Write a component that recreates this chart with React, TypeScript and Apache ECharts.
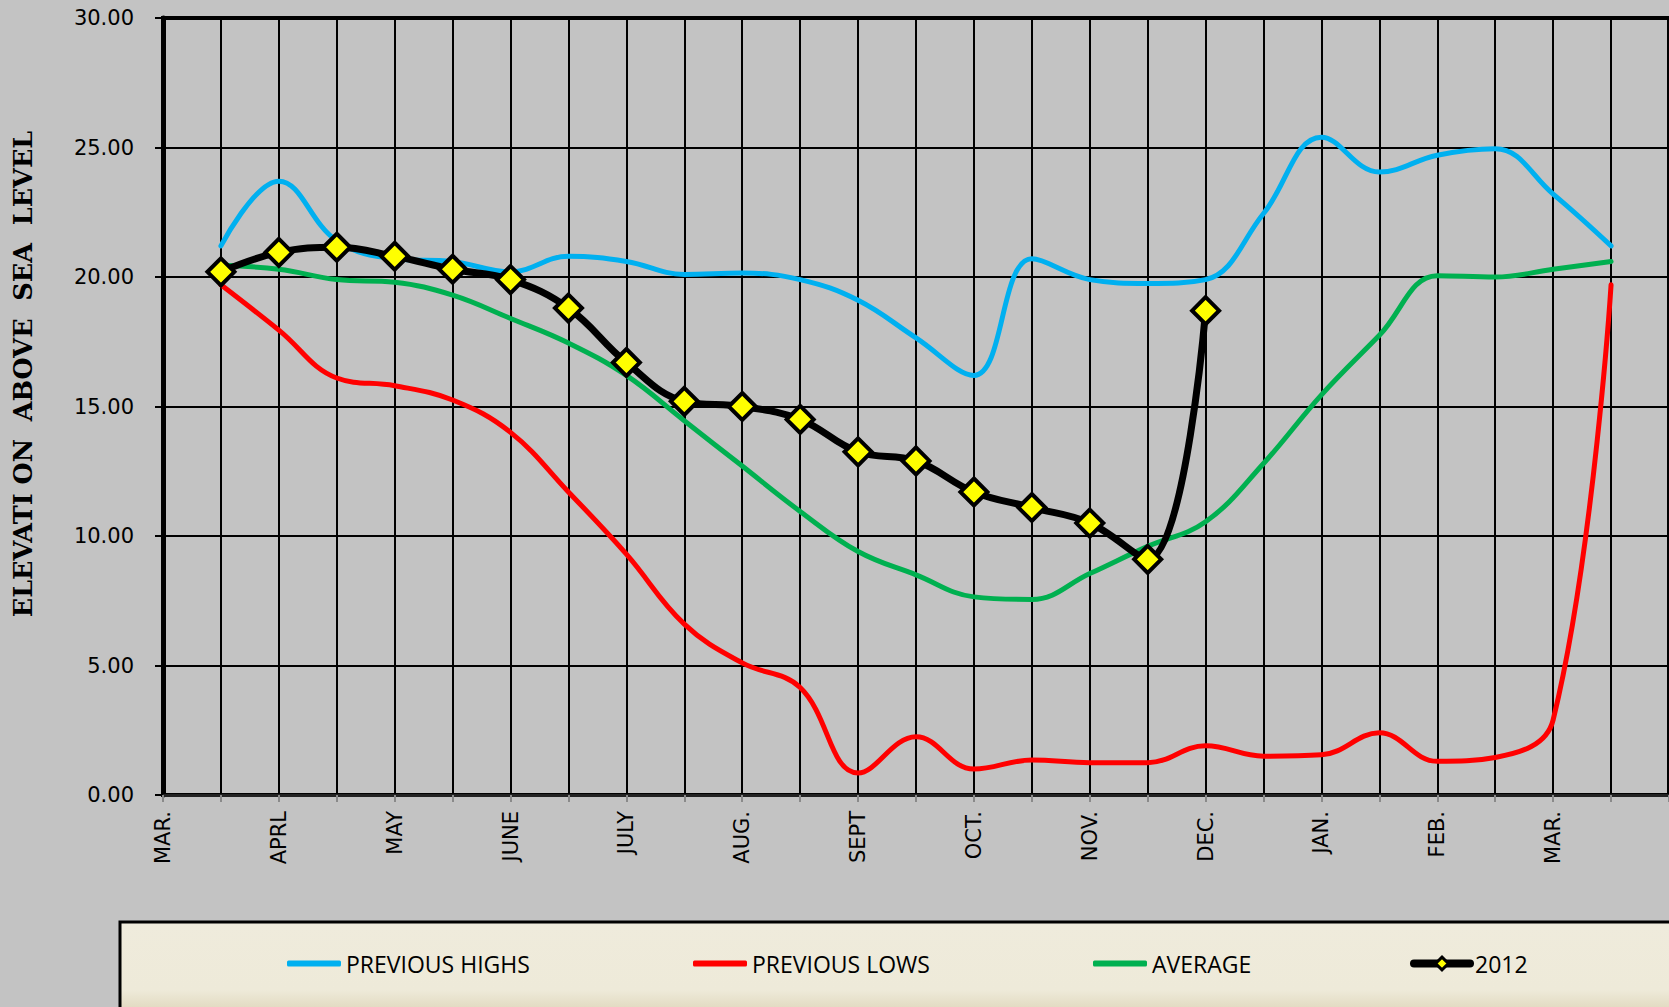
import React, { useEffect, useRef } from "react";
import * as echarts from "echarts";

const categories = [
  "MAR.", "", "APRL", "", "MAY", "", "JUNE", "", "JULY", "", "AUG.", "", "SEPT", "",
  "OCT.", "", "NOV.", "", "DEC.", "", "JAN.", "", "FEB.", "", "MAR.", "", "",
];

const previousHighs = [
  null, 21.2, 23.7, 21.4, 20.7, 20.6, 20.2, 20.8, 20.6, 20.1, 20.15, 19.9, 19.1, 17.65,
  16.2, 20.7, 19.9, 19.75, 19.9, 22.45, 25.4, 24.05, 24.7, 24.95, 23.2, 21.2, null,
];

const previousLows = [
  null, 19.7, 17.95, 16.1, 15.8, 15.25, 14.0, 11.7, 9.3, 6.6, 5.1, 4.15, 0.85, 2.25,
  1.0, 1.35, 1.25, 1.25, 1.9, 1.5, 1.55, 2.4, 1.3, 1.45, 2.9, 19.7, null,
];

const average = [
  null, 20.45, 20.3, 19.9, 19.8, 19.3, 18.4, 17.45, 16.2, 14.45, 12.7, 10.95, 9.4, 8.5,
  7.65, 7.55, 8.55, 9.6, 10.55, 12.8, 15.45, 17.75, 20.05, 20.0, 20.3, 20.6, null,
];

const year2012 = [
  null, 20.2, 20.95, 21.15, 20.8, 20.3, 19.9, 18.8, 16.7, 15.2, 15.0, 14.5, 13.25, 12.9,
  11.7, 11.1, 10.5, 9.1, 18.7, null, null, null, null, null, null, null, null,
];

const yTicks = { min: 0, max: 30, interval: 5 };

const tickFont = "'DejaVu Sans', Verdana, sans-serif";
const legendFont = "'Open Sans', 'Noto Sans', sans-serif";

export default function App() {
  const ref = useRef<HTMLDivElement>(null);

  useEffect(() => {
    if (!ref.current) return;
    const chart = echarts.init(ref.current, undefined, { renderer: "svg" });

    const legendText = { fontFamily: legendFont, fontSize: 23, color: "#000" };
    const lineLegend = {
      top: 947,
      itemWidth: 54,
      itemHeight: 6,
      itemGap: 0,
      textStyle: legendText,
      z: 10,
    };

    chart.setOption({
      animation: false,
      backgroundColor: "#c3c3c3",
      grid: {
        left: 163,
        right: 0,
        top: 18,
        bottom: 212,
        show: true,
        borderColor: "#000",
        borderWidth: 4,
        backgroundColor: "transparent",
      },
      graphic: [
        {
          type: "rect",
          z: 1,
          shape: { x: 120, y: 922, width: 1620, height: 110 },
          style: {
            fill: new echarts.graphic.LinearGradient(0, 0, 0, 1, [
              { offset: 0, color: "#efebdc" },
              { offset: 0.62, color: "#eeead9" },
              { offset: 1, color: "#d2c6a2" },
            ]),
            stroke: "#000",
            lineWidth: 3,
          },
        },
        {
          type: "text",
          z: 5,
          x: 23,
          y: 374,
          rotation: Math.PI / 2,
          style: {
            text: "ELEVATI ON  ABOVE  SEA  LEVEL",
            fontFamily: "'DejaVu Serif', serif",
            fontWeight: "bold",
            fontSize: 25.5,
            fill: "#000",
            align: "center",
            verticalAlign: "middle",
          },
        },
      ],
      legend: [
        { ...lineLegend, left: 282, data: [{ name: "PREVIOUS HIGHS", icon: "roundRect" }] },
        { ...lineLegend, left: 688, data: [{ name: "PREVIOUS LOWS", icon: "roundRect" }] },
        { ...lineLegend, left: 1088, data: [{ name: "AVERAGE", icon: "roundRect" }] },
        {
          top: 947,
          left: 1405,
          itemWidth: 56,
          itemHeight: 16,
          textStyle: legendText,
          z: 10,
          lineStyle: { width: 8, color: "#000", cap: "round" },
          itemStyle: { color: "#ffff00", borderColor: "#000", borderWidth: 3 },
          data: ["2012"],
        },
      ],
      xAxis: {
        type: "category",
        data: categories,
        boundaryGap: false,
        axisLine: { show: true, lineStyle: { color: "#222", width: 3 } },
        axisTick: { show: true, interval: 0, length: 7, lineStyle: { color: "#8a8a8a", width: 2 } },
        axisLabel: {
          interval: 0,
          rotate: 90,
          margin: 16,
          fontFamily: tickFont,
          fontSize: 21,
          color: "#000",
        },
        splitLine: { show: true, interval: 0, lineStyle: { color: "#000", width: 2 } },
      },
      yAxis: {
        type: "value",
        min: yTicks.min,
        max: yTicks.max,
        interval: yTicks.interval,
        axisLine: { show: true, lineStyle: { color: "#000", width: 5 } },
        axisTick: { show: true, length: 8, lineStyle: { color: "#000", width: 2 } },
        axisLabel: {
          formatter: (v: number) => v.toFixed(2),
          fontFamily: tickFont,
          fontSize: 21,
          color: "#000",
          margin: 29,
        },
        splitLine: { show: true, lineStyle: { color: "#000", width: 2 } },
      },
      series: [
        {
          name: "PREVIOUS HIGHS",
          type: "line",
          data: previousHighs,
          smooth: 0.4,
          symbol: "none",
          lineStyle: { color: "#00b0f0", width: 5, cap: "round" },
          itemStyle: { color: "#00b0f0" },
          z: 3,
        },
        {
          name: "PREVIOUS LOWS",
          type: "line",
          data: previousLows,
          smooth: 0.4,
          symbol: "none",
          lineStyle: { color: "#ff0000", width: 5, cap: "round" },
          itemStyle: { color: "#ff0000" },
          z: 3,
        },
        {
          name: "AVERAGE",
          type: "line",
          data: average,
          smooth: 0.4,
          symbol: "none",
          lineStyle: { color: "#00b050", width: 5, cap: "round" },
          itemStyle: { color: "#00b050" },
          z: 3,
        },
        {
          name: "2012",
          type: "line",
          data: year2012,
          smooth: 0.4,
          symbol: "diamond",
          symbolSize: 27,
          showAllSymbol: true,
          lineStyle: { color: "#000", width: 7 },
          itemStyle: { color: "#ffff00", borderColor: "#000", borderWidth: 4 },
          z: 4,
        },
      ],
    });

    return () => chart.dispose();
  }, []);

  return (
    <div
      ref={ref}
      style={{ position: "fixed", left: 0, top: 0, width: 1669, height: 1007 }}
    />
  );
}
